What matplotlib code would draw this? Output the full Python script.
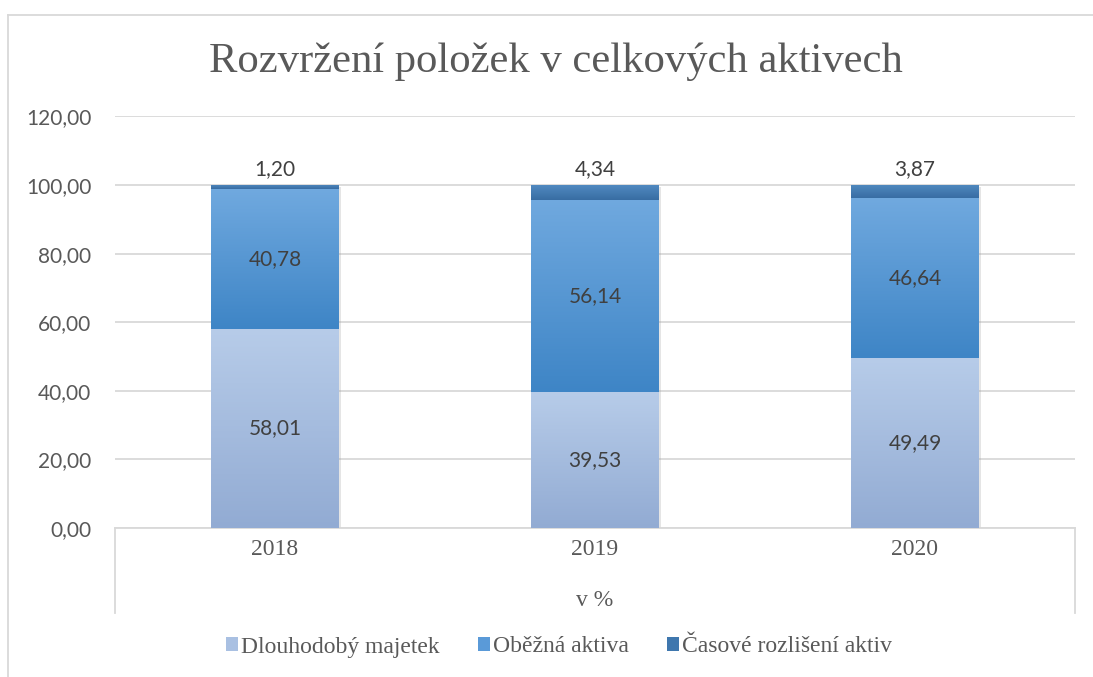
import numpy as np
import matplotlib.pyplot as plt
from matplotlib.colors import LinearSegmentedColormap
from matplotlib.patches import Patch
from matplotlib.lines import Line2D
import matplotlib.patheffects as pe

# data (v %)
years = ["2018", "2019", "2020"]
dlouhodoby = [58.01, 39.53, 49.49]
obezna = [40.78, 56.14, 46.64]
casove = [1.20, 4.34, 3.87]
series_names = ["Dlouhodobý majetek", "Oběžná aktiva", "Časové rozlišení aktiv"]
yticks = [0, 20, 40, 60, 80, 100, 120]

# (top colour, bottom colour) of the gradient fills
grads = [("#b7cce9", "#92abd3"), ("#70a9df", "#3e85c6"), ("#5089c0", "#386da3")]
legend_cols = ["#a9c0e2", "#5a9ad8", "#3f77ae"]

W, H = 1093, 677
grid_c = "#d9d9d9"
txt_c = "#595959"
serif = "Liberation Serif"
sans = "Lato"


def fill_gradient(ax, bars, top, bottom):
    cmap = LinearSegmentedColormap.from_list("g", [bottom, top])
    grad = np.linspace(0, 1, 256).reshape(-1, 1)
    for b in bars:
        x, y = b.get_x(), b.get_y()
        w, h = b.get_width(), b.get_height()
        im = ax.imshow(grad, cmap=cmap, origin="lower", aspect="auto",
                       extent=[x, x + w, y, y + h], zorder=3,
                       interpolation="bilinear")
        im.set_clip_path(b)
        b.set_facecolor("none")


fig = plt.figure(figsize=(W / 100, H / 100), dpi=100)
ax = fig.add_axes([115 / W, 1 - 528 / H, 960 / W, (528 - 116.4) / H])

x = np.arange(len(years))
width = 0.4
totals = np.array(dlouhodoby) + np.array(obezna) + np.array(casove)

# soft shadow behind each stack
ax.bar(x, totals, width, color="none", zorder=2,
       path_effects=[pe.SimplePatchShadow(offset=(1.5, -1.5), shadow_rgbFace="0.6", alpha=0.25)])

bottom = np.zeros(len(years))
for vals, (top_c, bot_c) in zip([dlouhodoby, obezna, casove], grads):
    bars = ax.bar(x, vals, width, bottom=bottom, color=top_c, linewidth=0, zorder=3)
    fill_gradient(ax, bars, top_c, bot_c)
    bottom = bottom + np.array(vals)

fmt = lambda v: f"{v:.2f}".replace(".", ",")

# data labels
lab = dict(ha="center", fontsize=15, color="#404040", family=sans, zorder=5)
for i in range(len(years)):
    ax.text(x[i], dlouhodoby[i] / 2, fmt(dlouhodoby[i]), va="center", **lab)
    ax.text(x[i], dlouhodoby[i] + obezna[i] / 2, fmt(obezna[i]), va="center", **lab)
    ax.annotate(fmt(casove[i]), (x[i], totals[i]), xytext=(0, 4), textcoords="offset points",
                va="bottom", **lab)

ax.set_xlim(-0.5, len(years) - 0.5)
ax.set_ylim(0, 120)
ax.set_yticks(yticks)
ax.set_yticklabels([fmt(v) for v in yticks], family=sans, fontsize=15, color=txt_c)
ax.set_xticks(x)
ax.set_xticklabels(years, family=serif, fontsize=17, color=txt_c)
ax.tick_params(axis="y", length=0, pad=17)
ax.tick_params(axis="x", length=0, pad=8)
ax.yaxis.grid(True, color=grid_c, linewidth=1.3, zorder=0)
ax.set_axisbelow(True)
for s in ["top", "right", "left"]:
    ax.spines[s].set_visible(False)
ax.spines["bottom"].set_color(grid_c)
ax.spines["bottom"].set_linewidth(1.3)

# open box under the category axis
for px in (115, 1075):
    fig.add_artist(Line2D([px / W] * 2, [1 - 528 / H, 1 - 613 / H], color=grid_c, lw=1.3))

# outer chart frame
fig.add_artist(Line2D([8 / W, 8 / W], [1 - 15 / H, 0], color=grid_c, lw=1.3))
fig.add_artist(Line2D([8 / W, 1], [1 - 15 / H, 1 - 15 / H], color=grid_c, lw=1.3))

fig.text(556 / W, 1 - 62 / H, "Rozvržení položek v celkových aktivech", ha="center", va="center",
         family=serif, fontsize=30.7, color=txt_c)
fig.text(595 / W, 1 - 600 / H, "v %", ha="center", va="center", family=serif, fontsize=17, color=txt_c)

handles = [Patch(facecolor=c, edgecolor="none") for c in legend_cols]
leg = fig.legend(handles, series_names, loc="center", bbox_to_anchor=(559 / W, 1 - 647 / H), ncol=3,
                 frameon=False, prop={"family": serif, "size": 17}, handlelength=0.5, handleheight=0.5,
                 handletextpad=0.15, columnspacing=1.6)
for t in leg.get_texts():
    t.set_color(txt_c)

fig.savefig("out.png", dpi=100)
